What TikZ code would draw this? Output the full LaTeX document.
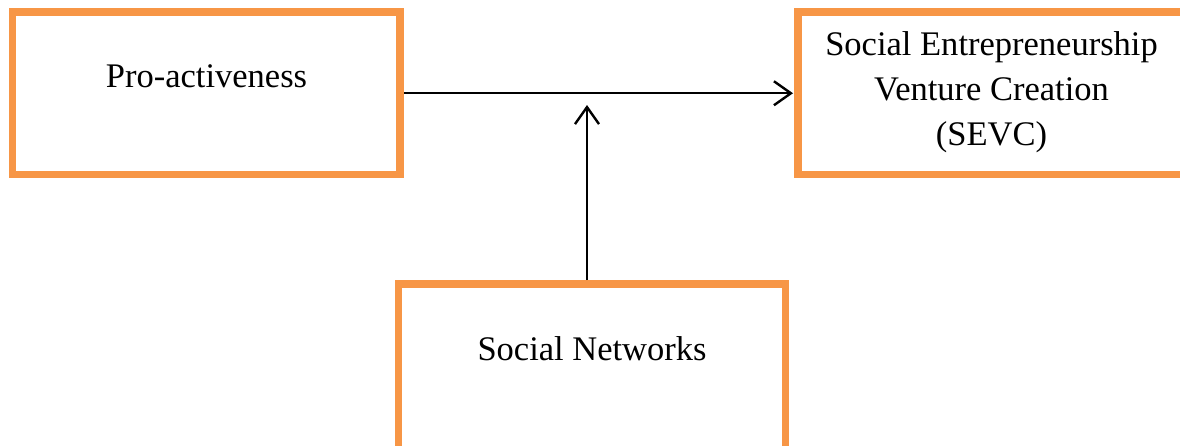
\documentclass[tikz,border=0pt]{standalone}
\usepackage{fontspec}
\setmainfont{Liberation Serif}
\usetikzlibrary{arrows.meta}
\definecolor{boxorange}{HTML}{F79646}
\begin{document}
\begin{tikzpicture}[x=1pt,y=-1pt,
  framebox/.style={draw=boxorange,line width=7.5pt,inner sep=0pt,outer sep=0pt,
    minimum width=387.5pt,minimum height=162.5pt,fill=white},
  label/.style={font=\fontsize{34.5}{45}\selectfont,inner sep=0pt,anchor=base,align=center},
  arr/.style={line width=2.4pt,-{Straight Barb[length=17pt,width=24pt]}}]
\useasboundingbox (0,0) rectangle (1180,445);
\clip (0,0) rectangle (1180,445);
\fill[white] (0,0) rectangle (1180,445);
\node[framebox] (pro) at (206.25,93.25) {};
\node[framebox] (sevc) at (991.75,93.25) {};
\node[framebox,minimum width=387pt,minimum height=166pt] (net) at (592,367) {};
\node[label] (protext) at (206.5,87) {Pro-activeness};
\node[label] (sevctext) at (991.5,145) {Social Entrepreneurship\\Venture Creation\\(SEVC)};
\node[label] (nettext) at (592,360) {Social Networks};
\coordinate (mid) at (587,105);
\draw[arr,shorten <=4pt,shorten >=5pt] (pro.east) -- (sevc.west);
\draw[arr,shorten <=4pt] (net.north -| mid) -- (mid);
\end{tikzpicture}
\end{document}
